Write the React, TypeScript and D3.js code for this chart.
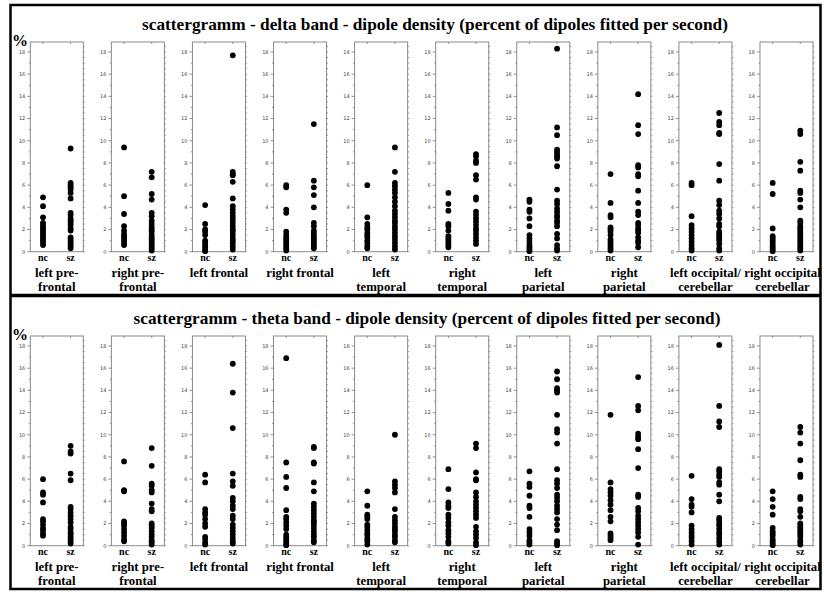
import React from 'react';
import * as d3 from 'd3';

const regions = [
  'left pre-|frontal',
  'right pre-|frontal',
  'left frontal',
  'right frontal',
  'left|temporal',
  'right|temporal',
  'left|parietal',
  'right|parietal',
  'left occipital/|cerebellar',
  'right occipital|cerebellar',
];
const groups = ['nc', 'sz'];
const yTicks = [0, 2, 4, 6, 8, 10, 12, 14, 16, 18];

const deltaNc = [
  [4.9, 4.1, 3.1, 2.6, 2.4, 2.2, 2.0, 1.8, 1.6, 1.4, 1.2, 1.0, 0.8, 0.6],
  [9.4, 5.0, 3.4, 2.3, 1.9, 1.6, 1.4, 1.2, 1.0, 0.8, 0.6],
  [4.2, 2.5, 2.0, 1.8, 1.5, 1.0, 0.8, 0.6, 0.4, 0.2, 0.05],
  [6.0, 5.8, 3.8, 3.5, 1.8, 1.5, 1.3, 1.1, 0.9, 0.7, 0.5, 0.3, 0.1],
  [6.0, 3.1, 2.5, 2.2, 2.0, 1.7, 1.5, 1.3, 1.0, 0.8, 0.5, 0.3],
  [5.3, 4.3, 3.7, 2.5, 2.3, 1.9, 1.4, 1.2, 1.0, 0.8, 0.6, 0.4],
  [4.7, 4.5, 3.8, 3.6, 3.0, 2.3, 1.5, 1.2, 0.9, 0.6, 0.4, 0.2, 0.05],
  [7.0, 4.4, 3.3, 3.1, 2.2, 2.0, 1.8, 1.5, 1.1, 0.9, 0.7, 0.5, 0.3, 0.1],
  [6.2, 6.0, 3.2, 2.4, 2.1, 1.8, 1.5, 1.2, 0.9, 0.6, 0.3, 0.1],
  [6.2, 5.2, 2.1, 1.4, 1.2, 1.0, 0.8, 0.6, 0.4, 0.2, 0.05],
];
const deltaSz = [
  [9.3, 6.2, 6.0, 5.8, 5.6, 5.3, 4.8, 3.5, 3.3, 3.0, 2.8, 2.6, 2.4, 2.1, 1.9, 1.3, 1.1, 0.9, 0.7, 0.5, 0.3],
  [7.2, 6.7, 5.2, 4.7, 3.5, 3.2, 2.8, 2.5, 2.2, 2.0, 1.8, 1.5, 1.3, 1.1, 0.9, 0.7, 0.5, 0.3, 0.1],
  [17.7, 7.2, 7.0, 6.9, 6.3, 4.8, 4.1, 3.8, 3.5, 3.2, 2.9, 2.6, 2.3, 2.0, 1.8, 1.5, 1.2, 1.0, 0.8, 0.5, 0.2],
  [11.5, 6.4, 5.8, 5.1, 4.0, 2.6, 2.3, 1.9, 1.7, 1.5, 1.3, 1.1, 0.9, 0.7, 0.5, 0.3],
  [9.4, 7.2, 6.2, 5.9, 5.6, 5.3, 4.9, 4.5, 4.1, 3.7, 3.4, 3.1, 2.8, 2.6, 2.3, 2.0, 1.7, 1.4, 1.1, 0.8, 0.5, 0.2],
  [8.8, 8.6, 8.2, 8.0, 6.9, 6.5, 4.9, 4.7, 3.6, 3.3, 3.0, 2.7, 2.4, 2.1, 1.9, 1.6, 1.3, 1.0, 0.7],
  [18.3, 11.2, 10.5, 9.2, 9.0, 8.8, 8.6, 8.4, 7.7, 5.6, 4.6, 4.3, 3.9, 3.6, 3.3, 3.1, 2.8, 2.6, 2.3, 1.6, 1.2, 0.6, 0.3, 0.1],
  [14.2, 11.4, 10.6, 7.8, 7.6, 7.0, 6.8, 5.5, 4.4, 3.6, 3.3, 2.6, 2.4, 2.1, 1.9, 1.7, 1.3, 1.0, 0.8, 0.4],
  [12.5, 11.7, 11.4, 10.7, 10.6, 7.9, 6.4, 4.6, 4.2, 3.7, 3.4, 3.0, 2.5, 2.3, 1.8, 1.6, 1.4, 1.2, 1.0, 0.7, 0.3, 0.1],
  [10.9, 10.6, 8.1, 7.3, 5.5, 5.3, 4.7, 4.0, 2.8, 2.6, 2.3, 2.1, 1.9, 1.7, 1.5, 1.3, 1.1, 0.9, 0.7, 0.5, 0.3, 0.1],
];
const thetaNc = [
  [6.0, 4.8, 4.6, 3.9, 2.4, 2.2, 1.9, 1.6, 1.4, 1.1, 0.9],
  [7.6, 5.0, 4.9, 2.2, 2.0, 1.8, 1.5, 1.2, 0.9, 0.6, 0.4],
  [6.4, 5.7, 3.3, 3.0, 2.8, 2.4, 2.0, 1.7, 0.8, 0.6, 0.3, 0.1],
  [16.9, 7.5, 6.2, 5.2, 3.2, 2.6, 2.4, 2.1, 1.8, 1.5, 1.0, 0.8, 0.6, 0.4, 0.2, 0.05],
  [4.9, 3.6, 2.8, 2.6, 2.4, 1.9, 1.7, 1.4, 1.1, 0.9, 0.6, 0.4, 0.1],
  [6.9, 5.1, 3.9, 3.6, 3.4, 2.8, 2.5, 2.1, 1.8, 1.4, 1.1, 0.8, 0.4, 0.2],
  [6.7, 5.6, 5.3, 4.5, 3.6, 3.4, 2.6, 1.5, 1.2, 0.9, 0.5, 0.3, 0.1],
  [11.8, 5.7, 5.1, 4.8, 4.5, 4.1, 3.7, 3.2, 2.6, 2.2, 1.1, 0.9, 0.7, 0.5],
  [6.3, 4.2, 3.7, 3.5, 3.0, 1.8, 1.5, 1.2, 0.9, 0.7, 0.4, 0.1],
  [4.9, 4.2, 3.5, 2.8, 1.6, 1.3, 1.1, 0.9, 0.6, 0.4, 0.2, 0.05],
];
const thetaSz = [
  [9.0, 8.5, 8.3, 6.5, 5.9, 3.5, 3.3, 3.0, 2.7, 2.4, 2.1, 1.7, 1.5, 1.2, 1.0, 0.8, 0.6, 0.4, 0.2],
  [8.8, 7.2, 5.6, 5.4, 5.0, 4.8, 3.8, 3.3, 3.1, 2.0, 1.8, 1.6, 1.3, 1.0, 0.8, 0.5, 0.3, 0.1],
  [16.4, 13.8, 10.6, 6.5, 5.8, 5.4, 4.3, 4.0, 3.6, 3.3, 2.7, 2.4, 1.9, 1.6, 1.3, 1.0, 0.7, 0.4, 0.2],
  [8.9, 8.8, 7.5, 7.4, 5.7, 4.9, 3.8, 3.5, 3.2, 2.9, 2.6, 2.3, 2.1, 1.9, 1.6, 1.3, 1.0, 0.8, 0.5, 0.3],
  [10.0, 5.8, 5.5, 5.2, 4.8, 3.3, 2.6, 2.3, 2.0, 1.7, 1.5, 1.3, 1.0, 0.8, 0.5, 0.3],
  [9.2, 8.8, 6.6, 6.0, 5.9, 4.8, 4.4, 4.0, 3.7, 3.4, 3.1, 2.8, 2.5, 1.7, 1.3, 1.0, 0.7, 0.3, 0.05],
  [15.7, 15.0, 14.2, 14.0, 13.8, 11.8, 10.5, 10.2, 9.2, 6.9, 5.9, 5.6, 5.2, 4.6, 4.3, 4.0, 3.6, 3.3, 3.0, 2.4, 1.9, 1.4, 0.4, 0.2, 0.05],
  [15.2, 12.6, 12.2, 10.1, 9.8, 9.6, 8.7, 7.0, 4.6, 4.4, 3.4, 3.1, 2.7, 2.4, 2.1, 1.8, 1.5, 1.2, 0.8, 0.1],
  [18.1, 12.6, 11.2, 10.7, 6.9, 6.7, 6.4, 6.2, 5.7, 5.5, 4.6, 4.0, 2.5, 2.3, 2.0, 1.8, 1.5, 1.2, 1.0, 0.7, 0.4, 0.1],
  [10.7, 10.2, 9.2, 7.7, 6.4, 6.2, 4.4, 4.2, 3.3, 3.1, 2.6, 2.0, 1.8, 1.6, 1.4, 1.2, 1.0, 0.8, 0.5, 0.3, 0.1],
];

const W = 824;
const H = 592;
const serif = '"Liberation Serif", "Times New Roman", serif';

const panels = [
  { title: 'scattergramm - delta band - dipole density (percent of dipoles fitted per second)', nc: deltaNc, sz: deltaSz, y0: 251.7, titleX: 435 },
  { title: 'scattergramm - theta band - dipole density (percent of dipoles fitted per second)', nc: thetaNc, sz: thetaSz, y0: 545.7, titleX: 427 },
];

const Panel = ({ p }) => {
  const y = d3.scaleLinear().domain([0, 18.9]).range([p.y0, p.y0 - 209.7]);
  const xBand = d3.scaleBand().domain(regions).range([30.3, 813]).paddingInner(0.346).paddingOuter(0);
  const bw = xBand.bandwidth();
  const xg = d3.scalePoint().domain(groups).range([0, bw]).padding(0.46);
  const minor = d3.range(0, 19, 1);
  const rminor = d3.range(0, 19, 0.5);
  return (
    <g>
      <text x={p.titleX} y={p.y0 - 222} textAnchor="middle" fontFamily={serif} fontWeight="bold" fontSize={17.3}>
        {p.title}
      </text>
      <text x={12} y={p.y0 - 206} fontFamily={serif} fontWeight="bold" fontSize={16}>%</text>
      {regions.map((r, i) => {
        const x0 = xBand(r);
        const lines = r.split('|');
        // last label is pulled left so it stays inside the frame
        const labelX = i === regions.length - 1 ? bw / 2 - 4 : bw / 2;
        return (
          <g key={r} transform={`translate(${x0},0)`}>
            <rect x={0} y={y(18.9)} width={bw} height={y(0) - y(18.9)} fill="none" stroke="#8a8a8a" strokeWidth={1} />
            {minor.map(t => (
              <line key={'l' + t} x1={t % 2 === 0 ? -3 : -1.5} x2={0} y1={y(t)} y2={y(t)} stroke="#777" strokeWidth={0.8} />
            ))}
            {rminor.map(t => (
              <line key={'r' + t} x1={bw} x2={bw + 1.5} y1={y(t)} y2={y(t)} stroke="#777" strokeWidth={0.7} />
            ))}
            {groups.map(g => (
              <line key={'t' + g} x1={xg(g)} x2={xg(g)} y1={y(18.9)} y2={y(18.9) + 2} stroke="#777" strokeWidth={0.8} />
            ))}
            {yTicks.map(t => (
              <text key={'yt' + t} x={-5} y={y(t) + 1.8} textAnchor="end" fontFamily="DejaVu Sans, sans-serif" fontSize={5} fill="#444">
                {t}
              </text>
            ))}
            {p.nc[i].map((v, j) => (
              <circle key={'n' + j} cx={xg('nc')} cy={y(v)} r={2.9} fill="#000" />
            ))}
            {p.sz[i].map((v, j) => (
              <circle key={'s' + j} cx={xg('sz')} cy={y(v)} r={2.9} fill="#000" />
            ))}
            {groups.map(g => (
              <text key={'g' + g} x={xg(g)} y={p.y0 + 9.5} textAnchor="middle" fontFamily={serif} fontWeight="bold" fontSize={10}>
                {g}
              </text>
            ))}
            {lines.map((l, k) => (
              <text key={'r' + k} x={labelX} y={p.y0 + 25.5 + k * 13.5} textAnchor="middle" fontFamily={serif} fontWeight="bold" fontSize={12.8}>
                {l}
              </text>
            ))}
          </g>
        );
      })}
    </g>
  );
};

export default function App() {
  return (
    <svg width={W} height={H} style={{ position: 'absolute', left: 0, top: 0, background: '#fff' }}>
      <rect x={0} y={0} width={W} height={H} fill="#fff" />
      <rect x={10.5} y={5} width={810} height={584} fill="none" stroke="#000" strokeWidth={2.5} />
      <line x1={10} x2={821} y1={295.5} y2={295.5} stroke="#000" strokeWidth={3.5} />
      {panels.map((p, i) => (
        <Panel key={i} p={p} />
      ))}
    </svg>
  );
}
